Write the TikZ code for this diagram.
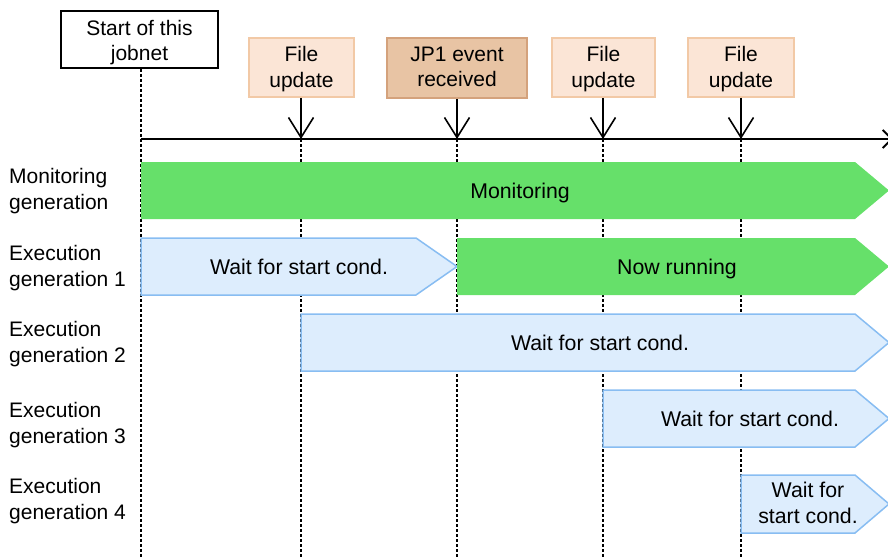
\documentclass[tikz,border=0pt]{standalone}
\usepackage{fontspec}
\setmainfont{Liberation Sans}
\usetikzlibrary{arrows.meta}
\definecolor{greenbar}{HTML}{66E06A}
\definecolor{bluefill}{HTML}{DDEDFD}
\definecolor{blueline}{HTML}{88BDF2}
\definecolor{peachfill}{HTML}{FBE5D6}
\definecolor{peachline}{HTML}{F2C9A6}
\definecolor{jpfill}{HTML}{E8C4A4}
\definecolor{jpline}{HTML}{D4A27C}
\tikzset{
  txt/.style={font=\fontsize{21.3}{25.5}\selectfont, align=center, inner sep=0pt},
  lbl/.style={font=\fontsize{21}{25.5}\selectfont, align=left, inner sep=0pt, anchor=west},
  startbox/.style={draw=black, line width=1.5pt, fill=white, font=\fontsize{21}{25.5}\selectfont, align=center, minimum width=157pt, minimum height=57pt, inner sep=0pt},
  evbox/.style={draw=peachline, line width=1.5pt, fill=peachfill, font=\fontsize{21}{25.5}\selectfont, align=center, minimum height=59pt, inner sep=0pt},
  jpbox/.style={draw=jpline, line width=1.5pt, fill=jpfill, font=\fontsize{21}{25.5}\selectfont, align=center, minimum height=60pt, inner sep=0pt},
  guide/.style={line width=1.8pt, dash pattern=on 3pt off 2pt},
  evarrow/.style={line width=1.6pt, -{Straight Barb[length=20pt,width=25pt,line width=1.6pt]}},
  waitbar/.style={fill=bluefill, draw=blueline, line width=1.5pt, line join=miter},
  runbar/.style={fill=greenbar},
}
\begin{document}
\begin{tikzpicture}[x=1pt,y=-1pt]
\useasboundingbox (0,0) rectangle (888,557);
\clip (0,0) rectangle (888,557);
% event boxes
\node[startbox] (start) at (139.5,39.5) {\rule{0pt}{21pt}Start of this\\jobnet};
\node[evbox, minimum width=105pt] (f1) at (301.5,67.5) {\rule{0pt}{18pt}File\\update};
\node[jpbox, minimum width=140pt] (jp) at (457,68) {JP1 event\\received\rule[-2pt]{0pt}{2pt}};
\node[evbox, minimum width=103pt] (f2) at (603.5,67.5) {\rule{0pt}{18pt}File\\update};
\node[evbox, minimum width=106pt] (f3) at (741,67.5) {\rule{0pt}{18pt}File\\update};
% axis coordinates
\coordinate (a0) at (141,139);
\coordinate (a1) at (301,139);
\coordinate (a2) at (457,139);
\coordinate (a3) at (603,139);
\coordinate (a4) at (741,139);
\coordinate (aend) at (893,139);
\coordinate (b0) at (141,557);
\coordinate (b1) at (301,557);
\coordinate (b2) at (457,557);
\coordinate (b3) at (603,557);
\coordinate (b4) at (741,557);
% guides
\draw[guide] (start.south -| a0) -- (b0);
\draw[guide] (a1) -- (b1);
\draw[guide] (a2) -- (b2);
\draw[guide] (a3) -- (b3);
\draw[guide] (a4) -- (b4);
% axis
\draw[line width=1.8pt, -{Straight Barb[length=9pt,width=18pt,line width=1.8pt]}] (a0) -- (aend);
% event arrows
\draw[evarrow] (f1.south -| a1) -- (a1);
\draw[evarrow] (jp.south -| a2) -- (a2);
\draw[evarrow] (f2.south -| a3) -- (a3);
\draw[evarrow] (f3.south -| a4) -- (a4);
% bars
\fill[runbar] (141,162) -- (855,162) -- (889,190.5) -- (855,219) -- (141,219) -- cycle;
\node[txt] (mon) at (520,192.5) {Monitoring};
\draw[waitbar] (141,238) -- (416,238) -- (457,266.5) -- (416,295) -- (141,295) -- cycle;
\node[txt] (w1) at (299,267) {Wait for start cond.};
\fill[runbar] (457,238) -- (855,238) -- (889,266.5) -- (855,295) -- (457,295) -- cycle;
\node[txt] (run) at (677,268.5) {Now running};
\draw[waitbar] (301,314) -- (855,314) -- (889,342.5) -- (855,371) -- (301,371) -- cycle;
\node[txt] (w2) at (600,343) {Wait for start cond.};
\draw[waitbar] (603,390) -- (855,390) -- (889,418.5) -- (855,447) -- (603,447) -- cycle;
\node[txt] (w3) at (750,419) {Wait for start cond.};
\draw[waitbar] (741,475) -- (855,475) -- (889,504) -- (855,533) -- (741,533) -- cycle;
\node[txt] (w4) at (808,503) {Wait for\\start cond.};
% left labels
\node[lbl] (lm) at (9,191) {Monitoring\\generation};
\node[lbl] (l1) at (9,268) {Execution\\generation 1};
\node[lbl] (l2) at (9,344) {Execution\\generation 2};
\node[lbl] (l3) at (9,425) {Execution\\generation 3};
\node[lbl] (l4) at (9,501) {Execution\\generation 4};
\end{tikzpicture}
\end{document}
